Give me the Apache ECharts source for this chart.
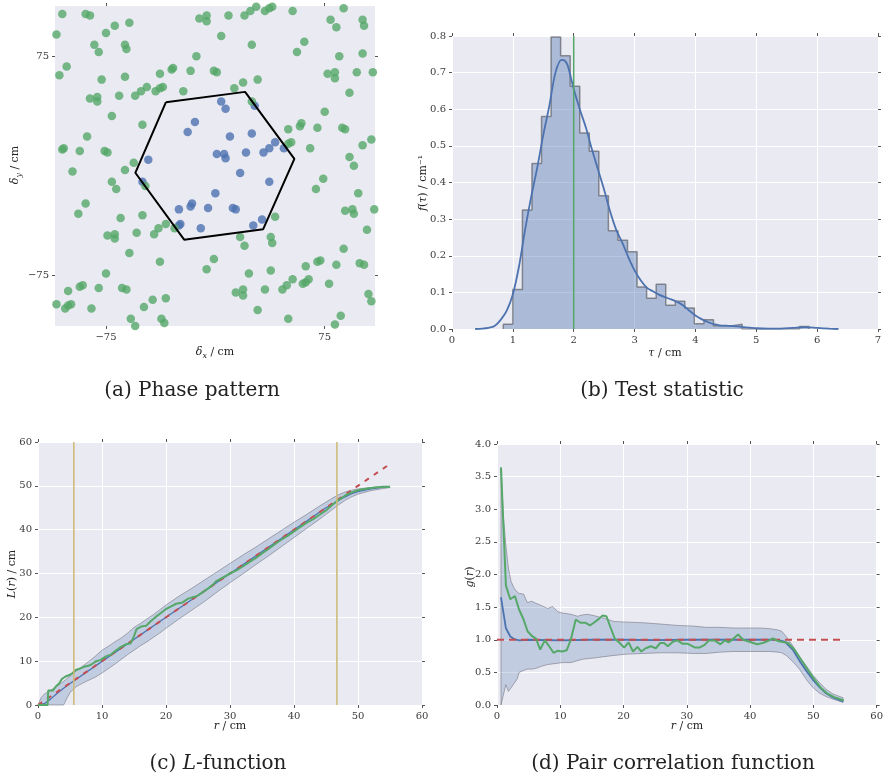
<!DOCTYPE html>
<html>
<head>
<meta charset="utf-8">
<script src="https://cdn.jsdelivr.net/npm/echarts@6/dist/echarts.min.js"></script>
<style>
  html, body { margin: 0; padding: 0; background: #ffffff; }
  #chart { width: 886px; height: 777px; }
</style>
</head>
<body>
<div id="chart"></div>
<script>
// ---------- (a) Phase pattern: relative positions (cm) ----------
const greenPoints = [
  [-105,104],[-89,104],[-86,103],[-59,98],[-69,96],[-75,91],[-109,90],[-83,83],[-62,83],[-61,80],
  [-80,78],[-11,101],[-6,103],[-6,99],[-13,75],[-102,68],[-107,62],[-78,59],[-62,61],[-38,63],
  [-30,66],[-29,67],[-17,65],[-47,54],[-51,51],[-55,48],[-41,51],[-38,53],[-36,54],[-22,51],
  [-86,46],[-81,47],[-81,44],[-66,48],[-71,34],[-50,28],[-88,20],[-105,11],[-104,12],[-93,10],
  [-76,10],[-74,9],[-56,2],
  [9,103],[20,103],[24,106],[28,109],[34,106],[37,108],[39,109],[53,106],[88,108],[79,100],
  [83,95],[101,100],[102,96],[4,89],[25,83],[61,85],[56,78],[85,75],[101,77],[-1,65],
  [1,64],[29,59],[19,57],[13,53],[77,63],[82,64],[82,60],[97,64],[108,64],[92,50],
  [75,37],[25,44],[50,25],[58,27],[59,29],[70,26],[87,26],[89,25],[107,18],[101,14],
  [65,12],[50,15],[52,16],[92,6],
  [-98,-4],[-62,-3],[-71,-11],[-68,-16],[-48,-14],[-89,-26],[-94,-33],[-65,-36],[-50,-34],[-74,-48],
  [-69,-47],[-69,-50],[-54,-46],[-42,-47],[-39,-43],[-34,-40],[-28,-43],[-59,-60],[-38,-66],[-75,-74],
  [-93,-83],[-91,-82],[-101,-86],[-80,-84],[-64,-84],[-61,-85],[-109,-95],[-103,-98],[-101,-96],[-99,-95],
  [-85,-98],[-49,-97],[-43,-92],[-34,-91],[-58,-105],[-37,-105],[-35,-108],[-55,-110],[-6,-71],
  [95,0],[74,-9],[69,-16],[98,-19],[89,-31],[94,-30],[95,-33],[109,-30],[104,-44],[41,-35],
  [17,-49],[20,-55],[38,-49],[39,-53],[-1,-64],[88,-57],[62,-69],[70,-66],[72,-65],[83,-68],
  [99,-67],[102,-68],[23,-74],[38,-72],[53,-78],[49,-82],[46,-85],[60,-81],[62,-80],[64,-78],
  [78,-81],[14,-87],[19,-85],[19,-89],[34,-85],[105,-88],[107,-93],[29,-99],[50,-105],[86,-103],
  [82,-109]
];
const bluePoints = [
  [-14,30],[-19,23],[-46,4],
  [4,44],[7,39],[27,41],[25,22],[10,20],[41,16],[37,12],[33,9],[47,12],[21,9],[1,8],[6,8],[7,5],
  [-50,-11],[-25,-30],[-17,-28],[-16,-26],[-5,-29],[-25,-41],[-24,-40],[-10,-43],[0,-19],
  [17,-5],[37,-11],[12,-29],[14,-30],[32,-37],[26,-41]
];
const hexagon = [
  [-33.9,43.5],[20.4,50.6],[54.2,4.7],[32.8,-43.6],[-21.4,-50.8],[-54.9,-4.9],[-33.9,43.5]
];
const phaseTicks = [-75, 75];

// ---------- (b) Test statistic ----------
const histStart = 0.843;
const histBinWidth = 0.157;
const histHeights = [
  0.013,0.108,0.325,0.452,0.580,0.797,0.746,0.663,0.535,0.485,
  0.364,0.268,0.242,0.211,0.115,0.084,0.122,0.065,0.076,0.057,
  0.014,0.025,0.009,0.009,0.013,0,0,0,0,0,0,0.007
];
const kdeTau = [
  0.38,0.5,0.6,0.7,0.8,0.9,1.0,1.1,1.2,1.3,1.4,1.5,1.6,1.7,1.8,1.85,1.9,2.0,2.1,2.2,
  2.3,2.4,2.5,2.6,2.7,2.8,2.9,3.0,3.1,3.2,3.3,3.4,3.5,3.6,3.7,3.8,3.9,4.0,4.1,4.2,
  4.3,4.4,4.5,4.6,4.7,4.8,5.0,5.2,5.4,5.6,5.8,6.0,6.2,6.35
];
const kdeDensity = [
  0,0.001,0.003,0.008,0.025,0.05,0.095,0.17,0.27,0.36,0.44,0.53,0.61,0.70,0.735,0.733,0.72,0.655,0.60,0.55,
  0.49,0.435,0.38,0.32,0.27,0.235,0.195,0.16,0.133,0.113,0.103,0.094,0.087,0.081,0.074,0.064,0.05,0.037,0.027,0.019,
  0.013,0.01,0.009,0.008,0.007,0.005,0.002,0.001,0.001,0.003,0.005,0.003,0.001,0
];
const observedTau = 2.0;

// ---------- (c) L-function ----------
const lObserved = [
  [0,0],[1.5,0],[1.6,3.3],[2.3,3.3],[2.9,4.4],[3.3,4.9],[3.7,5.9],[4.3,6.5],[5.0,6.9],[5.4,7.3],
  [5.9,8.0],[6.7,8.4],[7.4,8.8],[8.0,9.0],[8.5,9.4],[9.1,10.0],[9.8,10.3],[10.6,11.1],[11.4,11.5],[12.2,12.5],
  [12.9,13.2],[13.7,13.8],[14.5,14.1],[15.0,15.7],[15.4,17.3],[16.1,17.9],[16.9,18.1],[17.6,19.1],[18.4,20.1],[19.2,21.0],
  [20.0,21.9],[20.8,22.5],[21.6,23.1],[22.6,23.4],[23.4,24.2],[24.2,24.6],[24.9,24.9],[25.7,25.7],[26.5,26.5],[27.3,27.4],
  [27.8,28.2],[29,29.2],[30,30.0],[31,30.7],[32,31.6],[33,32.6],[34,33.5],[35,34.6],[36,35.6],[37,36.7],
  [38,37.7],[39,38.6],[40,39.6],[41,40.6],[42,41.6],[43,42.4],[44,43.4],[45,44.4],[46,45.7],[47,46.8],
  [48,47.8],[49,48.5],[50,49.0],[51,49.3],[52,49.5],[53,49.7],[54,49.8],[55,49.8]
];
const lMean = [
  [0,0],[1,0.3],[2,1.4],[3,2.7],[4,3.8],[5,4.9],[10,9.95],[20,20],[30,30],[40,40],
  [45,45],[46,45.8],[47,46.7],[48,47.5],[49,48.2],[50,48.7],[52,49.3],[54,49.7],[55,49.8]
];
const lPoisson = [[0,0],[55,55]];
const lBandR  = [0,0.5,1,2,3,4,4.5,5,5.5,6,7,8,9,10,11,12,13,14,15,16,17,18,19,20,22,24,26,28,30,32,34,36,38,40,42,44,46,47,48,49,50,52,54,55];
const lBandHi = [0,1.7,2.5,3.4,4.3,5.4,6.0,6.6,7.2,7.8,8.9,10.0,11.2,12.5,13.4,14.4,15.3,16.4,17.7,18.6,19.6,20.6,21.7,22.8,24.8,26.6,28.5,30.4,32.3,34.2,36.0,37.9,39.8,41.7,43.5,45.4,47.2,48.0,48.6,49.0,49.3,49.6,49.8,49.85];
const lBandLo = [0,0,0,0,0,0,1.5,2.8,3.6,4.2,5.0,5.7,6.4,7.3,8.3,9.3,10.4,11.5,12.5,13.5,14.4,15.4,16.4,17.5,19.6,21.6,23.6,25.8,27.9,29.9,32.0,34.0,36.1,38.2,40.3,42.4,44.6,45.7,46.7,47.5,48.1,48.9,49.4,49.6];
const lWindowEdges = [5.6, 46.7];

// ---------- (d) Pair correlation function ----------
const gObserved = [
  [0.63,3.64],[1.41,1.83],[2.1,1.62],[2.83,1.67],[3.5,1.46],[4.2,1.31],[4.83,1.13],[5.6,1.05],[6.14,1.02],[6.83,0.85],
  [7.56,0.99],[8.24,0.90],[8.93,0.80],[9.56,0.83],[10.3,0.82],[11.03,0.84],[11.66,1.0],[12.45,1.31],[13.2,1.26],[14.0,1.26],
  [14.7,1.22],[15.3,1.26],[16.1,1.32],[16.65,1.37],[17.3,1.36],[17.97,1.18],[18.6,1.02],[19.4,0.95],[20.1,0.88],[20.8,0.96],
  [21.5,0.82],[22.2,0.89],[22.8,0.82],[23.5,0.87],[24.3,0.90],[25.1,0.87],[25.8,0.95],[26.4,0.95],[27.0,0.90],[27.8,0.97],
  [28.5,0.99],[29.3,0.94],[30.1,0.94],[31.3,0.88],[32.0,0.88],[32.8,0.92],[33.5,0.99],[34.4,0.99],[35.3,0.93],[36.0,0.99],
  [36.6,0.96],[37.3,1.01],[38.1,1.08],[38.9,1.0],[39.9,0.97],[41.1,0.93],[42.0,0.95],[42.8,0.98],[43.6,1.02],[44.4,0.98],
  [45.4,0.96],[46.0,0.95],[47.0,0.85],[48.1,0.69],[49.1,0.54],[50.2,0.39],[51.2,0.26],[52.3,0.17],[53.3,0.12],[54.8,0.07]
];
const gMean = [
  [0.63,1.65],[1.4,1.18],[2.1,1.05],[2.7,1.01],[3.5,0.99],[5,1.0],[10,0.99],[15,1.0],[20,1.0],[25,0.995],
  [30,1.0],[35,1.0],[40,1.0],[44,1.0],[45.5,0.97],[46.8,0.84],[47.8,0.68],[48.9,0.52],[49.9,0.39],[51.0,0.27],
  [52.0,0.18],[53.1,0.115],[54.7,0.055]
];
const gPoisson = [[0,1],[54.8,1]];
const gBandR  = [0.63,1.0,1.4,1.8,2.2,2.7,3.2,3.5,4.2,4.8,5.5,6.1,6.9,8.0,8.8,9.6,10.3,11.7,12.7,13.5,14.3,15.3,16.9,18.5,20.6,23.2,25.9,28.5,31.0,33.1,35.2,37.3,39.4,41.5,43.1,44.4,45.0,45.7,46.8,47.8,48.9,49.9,51.0,52.0,53.1,54.7];
const gBandHi = [3.64,2.9,2.45,2.1,1.9,1.79,1.73,1.71,1.70,1.57,1.59,1.56,1.53,1.48,1.51,1.43,1.41,1.39,1.36,1.38,1.39,1.37,1.33,1.28,1.27,1.26,1.24,1.22,1.21,1.19,1.19,1.18,1.18,1.18,1.17,1.15,1.13,1.05,0.90,0.74,0.60,0.46,0.34,0.24,0.17,0.11];
const gBandLo = [0.0,0.15,0.31,0.21,0.26,0.33,0.40,0.50,0.53,0.55,0.55,0.56,0.59,0.62,0.63,0.64,0.65,0.65,0.68,0.70,0.71,0.72,0.74,0.76,0.78,0.79,0.80,0.80,0.79,0.79,0.81,0.82,0.82,0.82,0.82,0.81,0.80,0.76,0.66,0.55,0.39,0.27,0.18,0.13,0.09,0.04];

// ---------- styling ----------
const FONT = 'DejaVu Serif';
const TXT = '#3a3a3a';
const BG = '#EAEAF2';
const BLUE = '#4C72B0', GREEN = '#55A868', RED = '#C44E52', YELLOW = '#CCB974';

const grids = [
  { left: 55,  top: 6,   width: 320, height: 320 },
  { left: 452, top: 36,  width: 426, height: 293 },
  { left: 38,  top: 442, width: 384, height: 263 },
  { left: 497, top: 444, width: 380, height: 261 }
].map(g => Object.assign({ show: true, backgroundColor: BG, borderWidth: 0, containLabel: false }, g));

const minus = v => (v < 0 ? '\u2212' + Math.abs(v) : String(v));
const oneDec = v => v.toFixed(1);

const xCfg = [
  { min: -110, max: 109.5, custom: phaseTicks, fmt: minus, grid: false },
  { min: 0, max: 7, interval: 1, grid: true },
  { min: 0, max: 60, interval: 10, grid: true },
  { min: 0, max: 60, interval: 10, grid: true }
];
const yCfg = [
  { min: -110, max: 109.5, custom: phaseTicks, fmt: minus, grid: false },
  { min: 0, max: 0.8, interval: 0.1, fmt: oneDec, grid: true },
  { min: 0, max: 60, interval: 10, grid: true },
  { min: 0, max: 4, interval: 0.5, fmt: oneDec, grid: true }
];

function makeAxis(dim, gi, c, mirror) {
  const a = {
    type: 'value', gridIndex: gi, min: c.min, max: c.max,
    position: dim === 'x' ? (mirror ? 'top' : 'bottom') : (mirror ? 'right' : 'left'),
    axisLine: { show: false, onZero: false },
    axisTick: { show: true, length: 3, lineStyle: { color: '#555', width: 1 } },
    axisLabel: { show: !mirror, fontFamily: FONT, fontSize: 10, color: TXT, margin: 6 },
    splitLine: { show: !mirror && c.grid, lineStyle: { color: '#ffffff', width: 1 } }
  };
  if (c.interval) a.interval = c.interval;
  if (c.custom) { a.axisLabel.customValues = c.custom; a.axisTick.customValues = c.custom; }
  if (c.fmt) a.axisLabel.formatter = c.fmt;
  return a;
}

const xAxes = [], yAxes = [];
for (let i = 0; i < 4; i++) { xAxes.push(makeAxis('x', i, xCfg[i], false)); yAxes.push(makeAxis('y', i, yCfg[i], false)); }
for (let i = 0; i < 4; i++) { xAxes.push(makeAxis('x', i, xCfg[i], true));  yAxes.push(makeAxis('y', i, yCfg[i], true)); }

function lineSeries(gi, data, color, width, extra) {
  return Object.assign({
    type: 'line', xAxisIndex: gi, yAxisIndex: gi, data: data, symbol: 'none', silent: true,
    lineStyle: { color: color, width: width }
  }, extra || {});
}

function bandSeries(gi, rs, lo, hi) {
  return {
    type: 'custom', xAxisIndex: gi, yAxisIndex: gi, silent: true,
    data: [[rs[0], lo[0]]],
    renderItem: function (params, api) {
      const pts = [];
      for (let i = 0; i < rs.length; i++) pts.push(api.coord([rs[i], hi[i]]));
      for (let i = rs.length - 1; i >= 0; i--) pts.push(api.coord([rs[i], lo[i]]));
      return {
        type: 'polygon', shape: { points: pts },
        style: { fill: 'rgba(76,114,176,0.25)', stroke: 'rgba(100,100,110,0.5)', lineWidth: 1 }
      };
    }
  };
}

// histogram outline as a step line over bin edges
const histLine = [[histStart, 0]];
histHeights.forEach((h, i) => histLine.push([histStart + i * histBinWidth, h]));
histLine.push([histStart + histHeights.length * histBinWidth, 0]);

const kdeLine = kdeTau.map((t, i) => [t, kdeDensity[i]]);

const series = [
  // (a)
  lineSeries(0, hexagon, '#000000', 2),
  { type: 'scatter', xAxisIndex: 0, yAxisIndex: 0, data: bluePoints, symbolSize: 8.5, silent: true,
    itemStyle: { color: BLUE } },
  { type: 'scatter', xAxisIndex: 0, yAxisIndex: 0, data: greenPoints, symbolSize: 8.5, silent: true,
    itemStyle: { color: GREEN } },
  // (b)
  lineSeries(1, histLine, 'rgba(80,80,85,0.6)', 1.5, {
    step: 'end', areaStyle: { color: 'rgba(76,114,176,0.4)', opacity: 1 }
  }),
  lineSeries(1, kdeLine, BLUE, 1.8, { smooth: 0.3 }),
  lineSeries(1, [[observedTau, 0], [observedTau, 0.8]], GREEN, 1.5),
  // (c)
  bandSeries(2, lBandR, lBandLo, lBandHi),
  lineSeries(2, lMean, BLUE, 1.3),
  lineSeries(2, lPoisson, RED, 2, { lineStyle: { color: RED, width: 2, type: [5, 6] } }),
  lineSeries(2, lObserved, GREEN, 2),
  lineSeries(2, [[lWindowEdges[0], 0], [lWindowEdges[0], 60]], YELLOW, 1.5),
  lineSeries(2, [[lWindowEdges[1], 0], [lWindowEdges[1], 60]], YELLOW, 1.5),
  // (d)
  bandSeries(3, gBandR, gBandLo, gBandHi),
  lineSeries(3, gMean, BLUE, 1.8),
  lineSeries(3, gPoisson, RED, 2, { lineStyle: { color: RED, width: 2, type: [7, 5] } }),
  lineSeries(3, gObserved, GREEN, 2)
];

// ---------- axis titles and captions ----------
function richStyles(size) {
  return {
    i: { fontFamily: FONT, fontSize: size, fontStyle: 'italic', fill: '#222' },
    n: { fontFamily: FONT, fontSize: size, fill: '#222' },
    s: { fontFamily: FONT, fontSize: Math.round(size * 0.72), fontStyle: 'italic', fill: '#222',
         verticalAlign: 'top', padding: [Math.round(size * 0.75), 0, 0, 0] }
  };
}
function textEl(x, y, text, size, rotate) {
  return {
    type: 'text', x: x, y: y, rotation: rotate ? Math.PI / 2 : 0, silent: true,
    style: { text: text, align: 'center', verticalAlign: 'middle', rich: richStyles(size),
             fontFamily: FONT, fontSize: size, fill: '#222' }
  };
}

const graphics = [
  textEl(215, 352, '{i|δ}{s|x}{n| / cm}', 11, false),
  textEl(15, 165, '{i|δ}{s|y}{n| / cm}', 11, true),
  textEl(665, 353, '{i|τ}{n| / cm}', 11, false),
  textEl(423, 183, '{i|f}{n|(}{i|τ}{n|) / cm⁻¹}', 11, true),
  textEl(230, 726, '{i|r}{n| / cm}', 11, false),
  textEl(12, 574, '{i|L}{n|(}{i|r}{n|) / cm}', 11, true),
  textEl(687, 726, '{i|r}{n| / cm}', 11, false),
  textEl(470, 577, '{i|g}{n|(}{i|r}{n|)}', 11, true),
  textEl(192, 391, '{n|(a) Phase pattern}', 20, false),
  textEl(662, 391, '{n|(b) Test statistic}', 20, false),
  textEl(218, 764, '{n|(c) }{i|L}{n|-function}', 20, false),
  textEl(673, 764, '{n|(d) Pair correlation function}', 20, false)
];

const chart = echarts.init(document.getElementById('chart'), null, { renderer: 'canvas' });
chart.setOption({
  animation: false,
  backgroundColor: '#ffffff',
  grid: grids,
  xAxis: xAxes,
  yAxis: yAxes,
  series: series,
  graphic: { elements: graphics }
});
</script>
</body>
</html>
